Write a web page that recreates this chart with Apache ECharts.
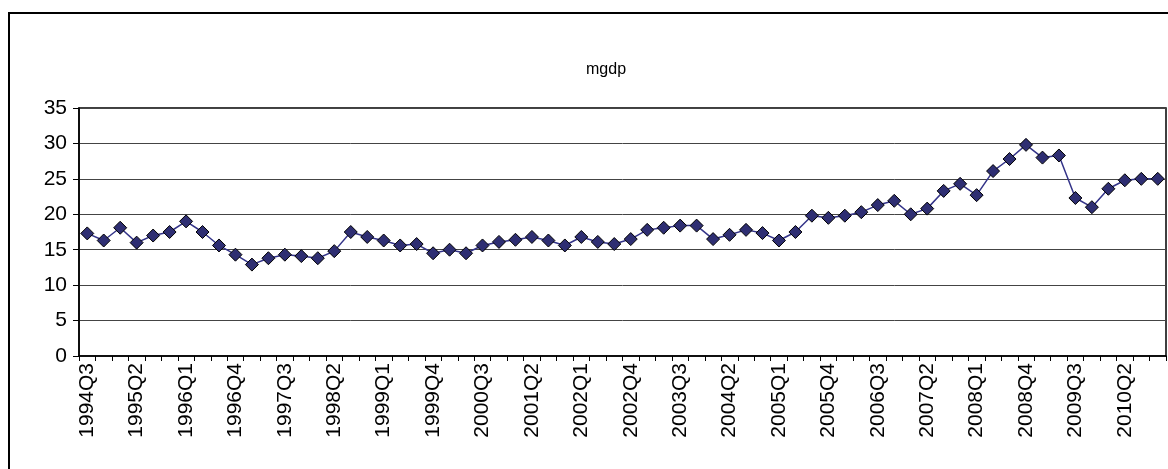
<!DOCTYPE html>
<html>
<head>
<meta charset="utf-8">
<script src="https://cdn.jsdelivr.net/npm/echarts@6/dist/echarts.min.js"></script>
<style>
html,body{margin:0;padding:0;background:#fff;}
#c{width:1168px;height:469px;}
</style>
</head>
<body>
<div id="c"></div>
<script>
// Categories: quarters 1994Q3 .. 2010Q4
var startYear = 1994, startQ = 3, nPoints = 66;
var categories = [];
(function(){
  var y = startYear, q = startQ;
  for (var i = 0; i < nPoints; i++) {
    categories.push(y + 'Q' + q);
    q++; if (q > 4) { q = 1; y++; }
  }
})();

var seriesName = 'mgdp';
var mgdp = [
  17.3, 16.3, 18.1, 16.0, 17.0, 17.5, 19.0, 17.5, 15.6, 14.3,
  12.9, 13.8, 14.3, 14.1, 13.8, 14.8, 17.5, 16.8, 16.3, 15.6,
  15.8, 14.5, 15.0, 14.5, 15.6, 16.1, 16.4, 16.8, 16.3, 15.6,
  16.8, 16.1, 15.8, 16.5, 17.8, 18.1, 18.4, 18.4, 16.5, 17.1,
  17.8, 17.35, 16.3, 17.5, 19.8, 19.5, 19.8, 20.3, 21.3, 21.9,
  20.0, 20.8, 23.3, 24.3, 22.7, 26.1, 27.8, 29.8, 28.0, 28.3,
  22.3, 21.0, 23.6, 24.8, 25.0, 25.0
];
var yTicks = {min: 0, max: 35, interval: 5};

var chart = echarts.init(document.getElementById('c'), null, {renderer: 'canvas'});
var font = '"Liberation Sans", Arial, sans-serif';
chart.setOption({
  animation: false,
  backgroundColor: '#fff',
  title: {
    text: seriesName,
    left: 581,
    top: 57,
    textStyle: {fontFamily: font, fontSize: 16, fontWeight: 'normal', color: '#000'}
  },
  graphic: [{
    type: 'rect',
    shape: {x: 9, y: 13, width: 1300, height: 600},
    style: {fill: 'none', stroke: '#000', lineWidth: 2},
    silent: true,
    z: 100
  }],
  grid: {
    left: 79, right: 2, top: 108, bottom: 113,
    show: true, borderColor: '#000', borderWidth: 1.5, backgroundColor: 'transparent'
  },
  xAxis: {
    type: 'category',
    data: categories,
    boundaryGap: true,
    axisLine: {lineStyle: {color: '#000', width: 1.5}},
    axisTick: {show: true, interval: 0, length: 5, lineStyle: {color: '#000'}},
    axisLabel: {
      interval: 2, rotate: 90, margin: 7,
      fontFamily: font, fontSize: 21, color: '#000'
    },
    splitLine: {show: false}
  },
  yAxis: {
    type: 'value',
    min: yTicks.min, max: yTicks.max, interval: yTicks.interval,
    axisLine: {show: true, lineStyle: {color: '#000', width: 1.5}},
    axisTick: {show: true, length: 6, lineStyle: {color: '#000'}},
    axisLabel: {fontFamily: font, fontSize: 21, color: '#000', margin: 12},
    splitLine: {show: true, lineStyle: {color: '#444', width: 1}}
  },
  series: [{
    name: seriesName,
    type: 'line',
    data: mgdp,
    symbol: 'diamond',
    symbolSize: 13,
    showAllSymbol: true,
    lineStyle: {color: '#333388', width: 1.5},
    itemStyle: {color: '#2e2e72', borderColor: '#000', borderWidth: 1},
    z: 3
  }]
});
</script>
</body>
</html>
